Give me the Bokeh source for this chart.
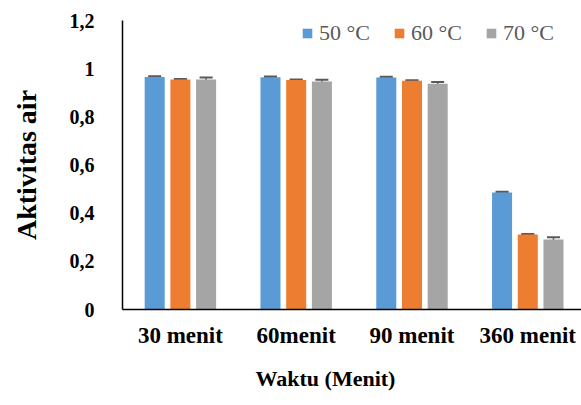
from bokeh.plotting import figure
from bokeh.models import (ColumnDataSource, Range1d, FixedTicker, CustomJSTickFormatter,
                          Legend, LegendItem, Whisker, TeeHead, Title)
from bokeh.transform import dodge
from bokeh.embed import file_html
from bokeh.resources import INLINE

categories = ["30 menit", "60menit", "90 menit", "360 menit"]
series_names = ["50 °C", "60 °C", "70 °C"]
values_50 = [0.965, 0.964, 0.963, 0.486]
values_60 = [0.955, 0.953, 0.950, 0.311]
values_70 = [0.955, 0.947, 0.937, 0.291]
err_50 = [0.003, 0.003, 0.003, 0.003]
err_60 = [0.002, 0.002, 0.002, 0.002]
err_70 = [0.008, 0.007, 0.008, 0.009]
y_ticks = [0, 0.2, 0.4, 0.6, 0.8, 1, 1.2]

colors = ["#5B9BD5", "#ED7D31", "#A5A5A5"]
offsets = [-0.222, 0.0, 0.222]
FONT = "Liberation Serif"

p = figure(frame_width=459, frame_height=289, output_backend="svg", toolbar_location=None,
           x_range=Range1d(0, 3.964), y_range=Range1d(0, 1.2),
           min_border_left=122, min_border_right=0, min_border_top=20, min_border_bottom=96)
p.outline_line_color = None
p.xgrid.grid_line_color = None
p.ygrid.grid_line_color = None
p.background_fill_color = "white"
p.border_fill_color = "white"

xpos = [i + 0.5 for i in range(len(categories))]
items = []
for name, vals, errs, col, off in zip(series_names, [values_50, values_60, values_70],
                                       [err_50, err_60, err_70], colors, offsets):
    src = ColumnDataSource(dict(x=xpos, top=vals,
                                upper=[v + e for v, e in zip(vals, errs)],
                                lower=[v - e for v, e in zip(vals, errs)]))
    r = p.vbar(x=dodge("x", off), top="top", bottom=0, width=0.173, source=src,
               fill_color=col, line_color=None)
    w = Whisker(source=src, base=dodge("x", off), upper="upper", lower="lower",
                line_color="#595959", line_width=1.5,
                upper_head=TeeHead(size=13, line_color="#595959", line_width=2),
                lower_head=TeeHead(size=13, line_color="#595959", line_width=2))
    p.add_layout(w)
    items.append(LegendItem(label=name, renderers=[r]))

legend = Legend(items=items, orientation="horizontal", location=(179, 263),
                glyph_width=12, glyph_height=12, label_standoff=6, spacing=23,
                label_text_font=FONT, label_text_font_size="22px", label_text_color="#595959",
                background_fill_alpha=0, border_line_alpha=0, padding=0, margin=0)
p.add_layout(legend, "center")

# axes
p.xaxis.ticker = FixedTicker(ticks=xpos)
p.xaxis.major_label_overrides = {x: c for x, c in zip(xpos, categories)}
p.yaxis.ticker = FixedTicker(ticks=y_ticks)
p.yaxis.formatter = CustomJSTickFormatter(
    code="return (Math.round(tick*10)/10).toString().replace('.', ',');")
for ax in (p.xaxis[0], p.yaxis[0]):
    ax.axis_line_color = "black"
    ax.axis_line_width = 1.5
    ax.major_tick_line_color = None
    ax.minor_tick_line_color = None
    ax.major_label_text_font = FONT
    ax.major_label_text_font_style = "bold"
    ax.major_label_text_color = "black"
p.xaxis.major_label_text_font_size = "23px"
p.xaxis.major_label_standoff = 7
p.yaxis.major_label_text_font_size = "20px"
p.yaxis.major_label_standoff = 22

p.yaxis.axis_label = "Aktivitas air"
p.yaxis.axis_label_text_font = FONT
p.yaxis.axis_label_text_font_style = "bold"
p.yaxis.axis_label_text_font_size = "28px"
p.yaxis.axis_label_text_color = "black"
p.yaxis.axis_label_standoff = 25

p.add_layout(Title(text="Waktu (Menit)", align="left", offset=133, standoff=30,
                   vertical_align="top",
                   text_font=FONT, text_font_style="bold", text_font_size="22px",
                   text_color="black"), "below")

open("out.html", "w").write(file_html(p, INLINE))
